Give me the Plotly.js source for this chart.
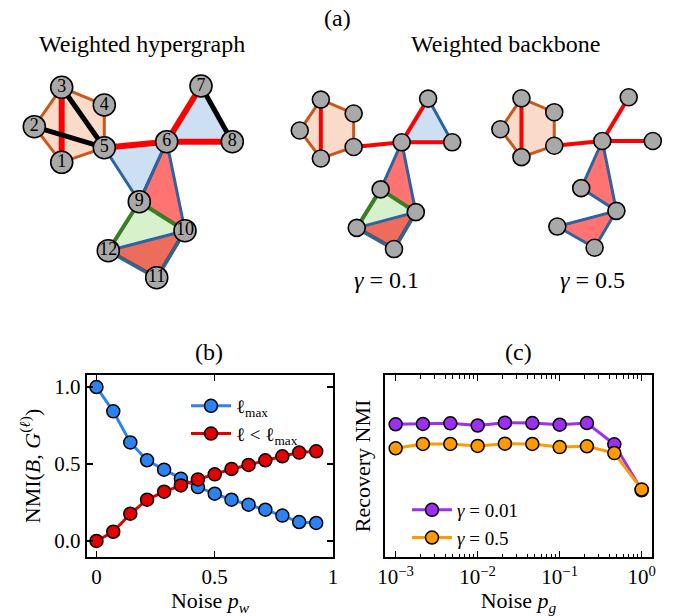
<!DOCTYPE html>
<html><head><meta charset="utf-8">
<script src="https://cdn.plot.ly/plotly-3.0.1.min.js"></script>
<style>html,body{margin:0;padding:0;background:#fff}#chart{width:673px;height:616px}</style>
</head><body><div id="chart"></div>
<script>
// ---------- data: hypergraph ----------
const nodeLabels = ['1','2','3','4','5','6','7','8','9','10','11','12'];
const nodeX = [61.7, 34.3, 61.7, 104.3, 104.3, 166.7, 201.0, 232.3, 139.3, 185.0, 156.7, 108.3];
const nodeY = [162.3, 126.7, 87.3, 105.0, 147.7, 141.7, 86.0, 141.7, 201.7, 230.7, 277.7, 250.7];
const hyperedges = [[3,4,5,1,2],[5,6,9],[6,7,8],[6,9,10],[9,10,11,12],[10,11,12]];
const hyperKind = ['pent','blue','blue','red','green','red'];
const pairEdges = [[1,3],[2,5],[3,5],[5,6],[6,7],[6,8],[7,8]];
const pairKind = ['red','black','black','red','red','red','black'];
const backbone01Hyper = [0,2,3,4,5];
const backbone01Pairs = [0,3,4,5];
const backbone05Hyper = [0,3,5];
const backbone05Pairs = [0,3,4,5];
const backboneLabels = ['<i>γ</i> = 0.1','<i>γ</i> = 0.5'];

// ---------- data: panel (b) ----------
const noiseW = [0, 0.071, 0.143, 0.214, 0.286, 0.357, 0.429, 0.5, 0.571, 0.643, 0.714, 0.786, 0.857, 0.929];
const nmiLmax = [1.0, 0.842, 0.64, 0.524, 0.463, 0.405, 0.35, 0.307, 0.268, 0.236, 0.203, 0.165, 0.123, 0.117];
const nmiLess = [0.0, 0.06, 0.177, 0.268, 0.32, 0.361, 0.40, 0.433, 0.468, 0.494, 0.524, 0.55, 0.574, 0.582];
const bTickVals = [0, 0.5, 1];
const bXTickText = ['0','0.5','1'];
const bYTickText = ['0.0','0.5','1.0'];

// ---------- data: panel (c) ----------
const noiseG = [0.001, 0.00215, 0.00464, 0.01, 0.0215, 0.0464, 0.1, 0.215, 0.464, 1.0];
const recov001 = [0.758, 0.76, 0.764, 0.75, 0.768, 0.766, 0.755, 0.766, 0.628, 0.329];
const recov05 = [0.602, 0.63, 0.63, 0.617, 0.632, 0.63, 0.61, 0.615, 0.571, 0.335];
const cTickVals = [0.001, 0.01, 0.1, 1];
const cTickText = ['10<sup>−3</sup>','10<sup>−2</sup>','10<sup>−1</sup>','10<sup>0</sup>'];

// ---------- styles ----------
const W = 673, H = 616;
const FONT = 'Liberation Serif, Times New Roman, serif';
const hyperStyle = {
  pent: {fill:'#fadbca', line:'#c8581c', w:3},
  blue: {fill:'#cde0f3', line:'#2b64a0', w:3},
  red: {fill:'rgba(255,0,0,0.55)', line:'#2b64a0', w:3},
  green: {fill:'#d6f1cc', line:'#3a7d22', w:4}
};
const pairColor = {red:'#ff0000', black:'#000000'};

const px = v => v / W;
const py = v => 1 - v / H;

function graphTraces(hIdx, pIdx, ax, nodeSize, edgeW, showLabels) {
  const xa = 'x' + ax, ya = 'y' + ax;
  const tr = [];
  hIdx.forEach(i => {
    const nodes = hyperedges[i].concat([hyperedges[i][0]]);
    const st = hyperStyle[hyperKind[i]];
    tr.push({type:'scatter', mode:'lines', x: nodes.map(n => nodeX[n-1]), y: nodes.map(n => nodeY[n-1]),
      fill:'toself', fillcolor: st.fill, line:{color: st.line, width: st.w}, xaxis: xa, yaxis: ya,
      hoverinfo:'skip', showlegend:false});
  });
  pIdx.forEach(i => {
    const e = pairEdges[i];
    const k = pairKind[i];
    tr.push({type:'scatter', mode:'lines', x: e.map(n => nodeX[n-1]), y: e.map(n => nodeY[n-1]),
      line:{color: pairColor[k], width: k === 'black' ? edgeW - 1 : edgeW}, xaxis: xa, yaxis: ya,
      hoverinfo:'skip', showlegend:false});
  });
  tr.push({type:'scatter', mode: showLabels ? 'markers+text' : 'markers', x: nodeX, y: nodeY,
    text: showLabels ? nodeLabels : undefined, textposition:'middle center',
    textfont:{family: FONT, size: 18, color:'#000'},
    marker:{size: nodeSize, color:'#a9a9a9', line:{color:'#000', width:1.6}}, xaxis: xa, yaxis: ya,
    hoverinfo:'skip', showlegend:false});
  return tr;
}

// axis ranges for a scaled copy of the layout anchored on node 6
function scaledAxes(dom, cPx, s) {
  const ax0 = nodeX[5], ay0 = nodeY[5];
  const xr = [ax0 + (dom[0] - cPx[0]) / s[0], ax0 + (dom[1] - cPx[0]) / s[0]];
  const yr = [ay0 + (dom[3] - cPx[1]) / s[1], ay0 + (dom[2] - cPx[1]) / s[1]];
  return [
    {domain:[px(dom[0]), px(dom[1])], range: xr, visible:false, fixedrange:true},
    {domain:[py(dom[3]), py(dom[2])], range: yr, visible:false, fixedrange:true}
  ];
}

const traces = [];
traces.push(...graphTraces([0,1,2,3,4,5], [0,1,2,3,4,5,6], '', 22, 6, true));
traces.push(...graphTraces(backbone01Hyper, backbone01Pairs, '2', 17, 4, false));
traces.push(...graphTraces(backbone05Hyper, backbone05Pairs, '3', 17, 4, false));

function series(x, y, name, color, ax, leg) {
  return {type:'scatter', mode:'lines+markers', x: x, y: y, name: name,
    line:{color: color, width:3}, marker:{size:13, color: color, line:{color:'#000', width:1.5}},
    xaxis:'x' + ax, yaxis:'y' + ax, legend: leg, hoverinfo:'skip'};
}
// panel b
traces.push(series(noiseW, nmiLmax, 'ℓ<sub>max</sub>', '#2a83f0', '4', 'legend'));
traces.push(series(noiseW, nmiLess, 'ℓ < ℓ<sub>max</sub>', '#e50000', '4', 'legend'));
// panel c
traces.push(series(noiseG, recov001, '<i>γ</i> = 0.01', '#9b30f0', '5', 'legend2'));
traces.push(series(noiseG, recov05, '<i>γ</i> = 0.5', '#ff9a00', '5', 'legend2'));

const tickFont = {family: FONT, size: 21, color:'#000'};
const titleFont = {family: FONT, size: 24, color:'#000'};
const axTitleFont = {family: FONT, size: 22, color:'#000'};
const frame = {showline:true, linewidth:2.2, linecolor:'#000', mirror:'ticks', showgrid:false, zeroline:false,
  ticks:'inside', tickcolor:'#000', tickwidth:1.2, ticklen:6, fixedrange:true, automargin:false};

const minorVals = [];
[0.001, 0.01, 0.1].forEach(d => { for (let k = 2; k <= 9; k++) minorVals.push(d * k); });

const a2 = scaledAxes([270, 470, 30, 300], [401.7, 142.3], [0.77, 0.785]);
const a3 = scaledAxes([470, 673, 30, 300], [602.3, 141.0], [0.77, 0.785]);

function legendAt(xPx, yPx) {
  return {x: px(xPx), y: py(yPx), xanchor:'left', yanchor:'top', bgcolor:'rgba(0,0,0,0)',
    font:{family: FONT, size: 19, color:'#000'}, itemwidth:40, borderwidth:0, tracegroupgap:0};
}
function ann(text, xPx, yPx) {
  return {text: text, x: px(xPx), y: py(yPx), xref:'paper', yref:'paper', xanchor:'center', yanchor:'middle',
    showarrow:false, font: titleFont};
}

const layout = {
  width: W, height: H, autosize:false,
  margin:{l:0, r:0, t:0, b:0, autoexpand:false}, paper_bgcolor:'#fff', plot_bgcolor:'rgba(0,0,0,0)',
  font:{family: FONT, color:'#000'},
  xaxis:{domain:[0, px(260)], range:[0, 260], visible:false, fixedrange:true},
  yaxis:{domain:[py(300), py(30)], range:[300, 30], visible:false, fixedrange:true},
  xaxis2: a2[0], yaxis2: a2[1],
  xaxis3: a3[0], yaxis3: a3[1],
  xaxis4: Object.assign({}, frame, {domain:[px(87), px(333)], range:[-0.04, 1.0], anchor:'y4',
    tickmode:'array', tickvals: bTickVals, ticktext: bXTickText, tickfont: tickFont,
    title:{text:'Noise <i>p<sub>w</sub></i>', font: axTitleFont, standoff: 8}}),
  yaxis4: Object.assign({}, frame, {domain:[py(557), py(375)], range:[-0.104, 1.078], anchor:'x4',
    tickmode:'array', tickvals: bTickVals, ticktext: bYTickText, tickfont: tickFont,
    title:{text:'NMI(<i>B</i>, <i>G</i><sup>(<i>ℓ</i>)</sup>)', font: axTitleFont, standoff: 8}}),
  xaxis5: Object.assign({}, frame, {domain:[px(385), px(652)], type:'log', range:[-3.13, 0.126], anchor:'y5',
    tickmode:'array', tickvals: cTickVals, ticktext: cTickText, tickfont: tickFont,
    minor:{tickmode:'array', tickvals: minorVals, ticks:'inside', ticklen:3.5, tickcolor:'#000', tickwidth:1, showgrid:false},
    title:{text:'Noise <i>p<sub>g</sub></i>', font: axTitleFont, standoff: 8}}),
  yaxis5: Object.assign({}, frame, {domain:[py(557), py(375)], range:[-0.104, 1.078], anchor:'x5',
    ticks:'', showticklabels:false, mirror:true,
    title:{text:'Recovery NMI', font: axTitleFont, standoff: 6}}),
  legend: legendAt(186, 387),
  legend2: legendAt(407, 491),
  annotations:[
    ann('(a)', 337, 18),
    ann('Weighted hypergraph', 142, 44),
    ann('Weighted backbone', 505, 44),
    ann(backboneLabels[0], 387, 280),
    ann(backboneLabels[1], 592, 280),
    ann('(b)', 209, 352),
    ann('(c)', 518, 352)
  ]
};

Plotly.newPlot('chart', traces, layout, {displayModeBar:false, staticPlot:true});
</script>
</body></html>
